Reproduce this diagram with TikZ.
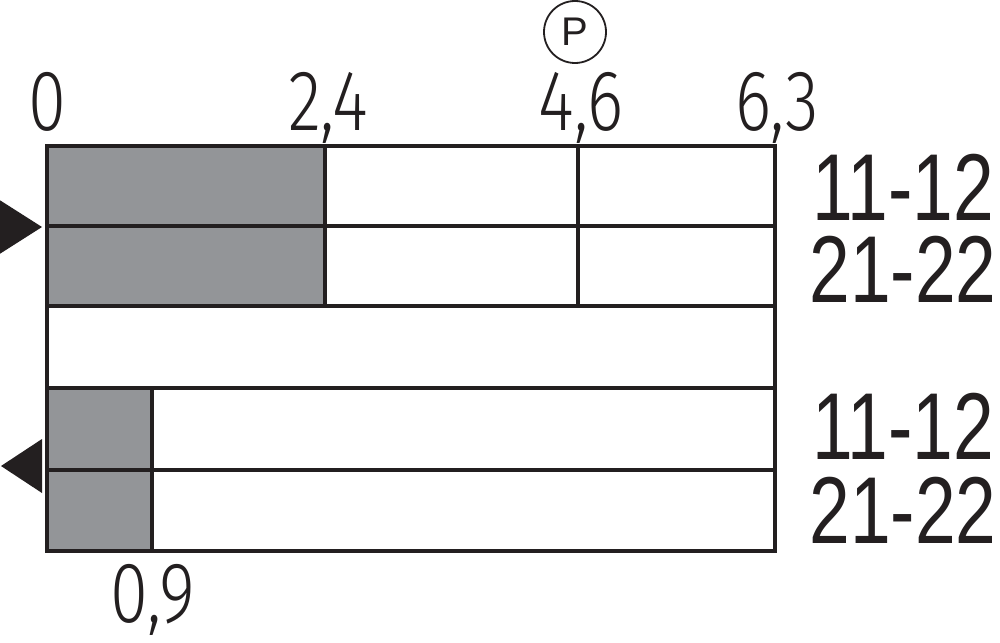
\documentclass[tikz,border=0pt]{standalone}
\usepackage{fontspec}
\setmainfont{Liberation Sans}
\newfontfamily\numfont[FakeStretch=0.80]{Fira Sans Light}
\newfontfamily\lblfont[FakeStretch=0.77]{Liberation Sans}
\definecolor{ink}{HTML}{231F20}
\definecolor{shade}{HTML}{939598}
\begin{document}
\begin{tikzpicture}[x=1pt,y=-1pt,
  cell/.style={draw=ink,line width=3.5pt},
  graycell/.style={cell,fill=shade},
  toplbl/.style={anchor=base,inner sep=0pt,text=ink,text height=58pt,text depth=8pt,font=\numfont\fontsize{86}{86}\selectfont},
  rowlbl/.style={anchor=base,inner sep=0pt,text=ink,text height=66pt,text depth=0pt,font=\lblfont\fontsize{95}{95}\selectfont},
  tri/.style={fill=ink,draw=none}]
\useasboundingbox (0,0) rectangle (1000,642);
% top pair
\draw[graycell] (47,146) rectangle (325,226);
\draw[graycell] (47,226) rectangle (325,306);
\draw[cell] (325,146) rectangle (578,226);
\draw[cell] (578,146) rectangle (775,226);
\draw[cell] (325,226) rectangle (578,306);
\draw[cell] (578,226) rectangle (775,306);
% middle
\draw[cell] (47,306) rectangle (775,388);
% bottom pair
\draw[graycell] (47,388) rectangle (152,470);
\draw[graycell] (47,470) rectangle (152,551);
\draw[cell] (152,388) rectangle (775,470);
\draw[cell] (152,470) rectangle (775,551);
% triangles
\fill[tri] (-2,199) -- (42,227) -- (-2,255) -- cycle;
\fill[tri] (42,439) -- (1,466) -- (42,493) -- cycle;
% scale labels
\node[toplbl] (l0) at (47,130) {0};
\node[toplbl] (l24) at (328,130) {2,4};
\node[toplbl] (l46) at (581,130) {4,6};
\node[toplbl] (l63) at (777,130) {6,3};
\node[toplbl] (l09) at (153,622) {0,9};
% P marker
\node[circle,draw=ink,line width=1.8pt,minimum size=62pt,inner sep=0pt,text=ink,font=\fontsize{40}{40}\selectfont] (p) at (575,32) {P};
% row labels
\node[rowlbl] (r1) at (903,220) {11-12};
\node[rowlbl] (r2) at (903,302) {21-22};
\node[rowlbl] (r3) at (903,459) {11-12};
\node[rowlbl] (r4) at (903,543) {21-22};
\end{tikzpicture}
\end{document}
